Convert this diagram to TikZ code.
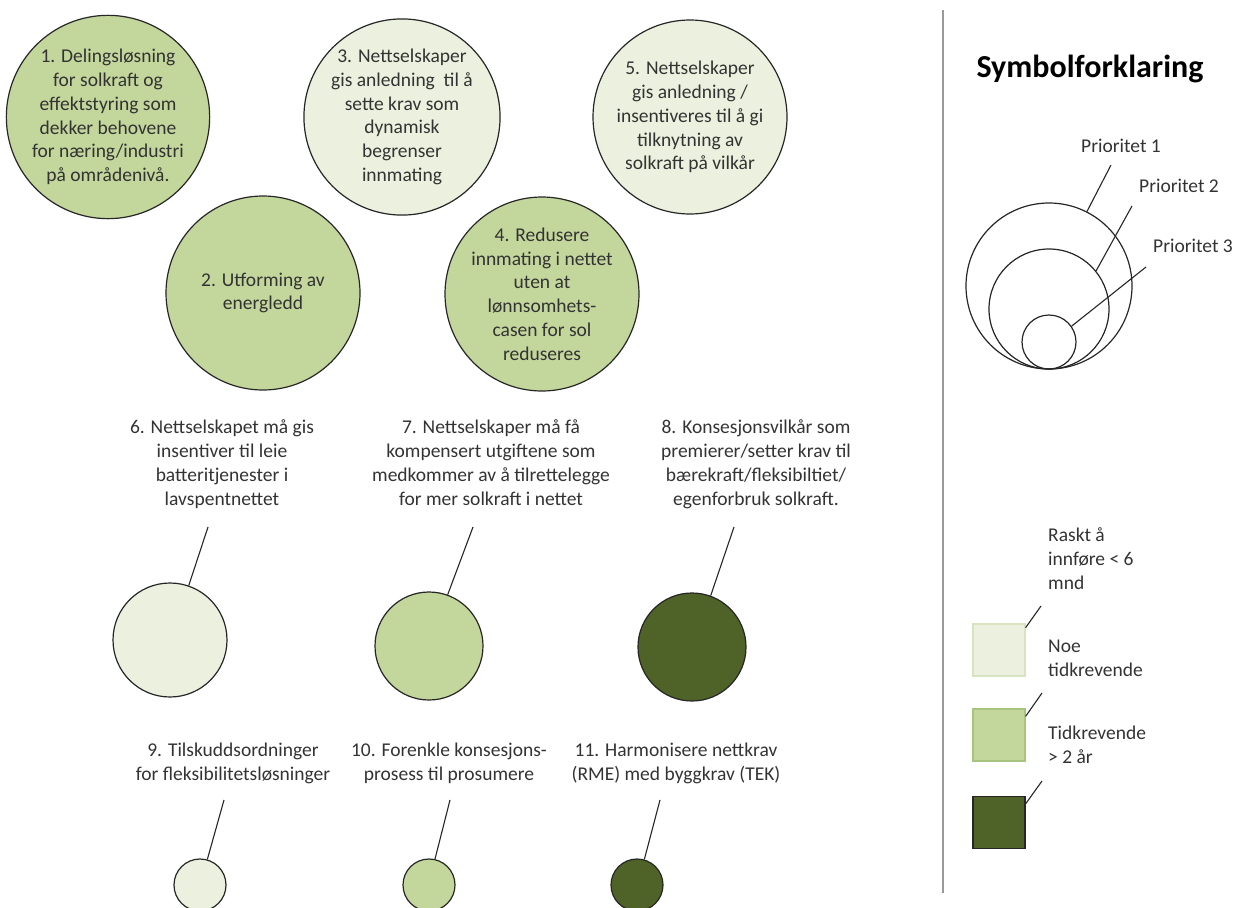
\documentclass[tikz,border=0pt]{standalone}
\usepackage{fontspec}
\setmainfont{Carlito}
\definecolor{lg}{HTML}{EBF1DE}
\definecolor{mg}{HTML}{C3D69B}
\definecolor{dg}{HTML}{4F6228}
\definecolor{tx}{HTML}{333333}
\definecolor{lgb}{HTML}{D8E4BF}
\definecolor{mgb}{HTML}{A9C47F}
\begin{document}
\begin{tikzpicture}[x=1pt,y=-1pt,
  txt/.style={font=\fontsize{19.5}{23.8}\selectfont, text=tx, inner sep=0pt, align=center},
  bigc/.style={circle, draw=black!85, line width=1.2pt, minimum size=194pt, inner sep=0pt, txt},
  circ/.style={circle, draw=black!85, line width=1.2pt, inner sep=0pt},
  lead/.style={draw=black!85, line width=1.1pt},
  sq/.style={rectangle, minimum size=52pt, inner sep=0pt, line width=1.2pt},
]
\useasboundingbox (0,0) rectangle (1243,908);

% top circles
\node[bigc, fill=mg] (c1) at (108,117) {1. Delingsløsning\\for solkraft og\\effektstyring som\\dekker behovene\\for næring/industri\\på områdenivå.};
\node[bigc, fill=mg] (c2) at (263,293) {2. Utforming av\\energledd};
\node[bigc, fill=lg] (c3) at (402,117) {3. Nettselskaper\\gis anledning\ \ til å\\sette krav som\\dynamisk\\begrenser\\innmating};
\node[bigc, fill=mg] (c4) at (542,294) {4. Redusere\\innmating i nettet\\uten at\\lønnsomhets-\\casen for sol\\reduseres};
\node[bigc, fill=lg] (c5) at (690,117) {5. Nettselskaper\\gis anledning /\\insentiveres til å gi\\tilknytning av\\solkraft på vilkår};

% middle row
\node[txt, anchor=base] (t6) at (222,505) {6. Nettselskapet må gis\\insentiver til leie\\batteritjenester i\\lavspentnettet};
\node[txt, anchor=base] (t7) at (491,505) {7. Nettselskaper må få\\kompensert utgiftene som\\medkommer av å tilrettelegge\\for mer solkraft i nettet};
\node[txt, anchor=base] (t8) at (756,505) {8. Konsesjonsvilkår som\\premierer/setter krav til\\bærekraft/fleksibiltiet/\\egenforbruk solkraft.};
\node[circ, fill=lg, minimum size=114pt] (c6) at (170,640) {};
\node[circ, fill=mg, minimum size=108pt] (c7) at (429,646) {};
\node[circ, fill=dg, minimum size=108pt] (c8) at (692,647) {};
\coordinate (p6) at (208,527);
\coordinate (p7) at (473,527);
\coordinate (p8) at (734,527);
\draw[lead] (p6) -- (c6.71);
\draw[lead] (p7) -- (c7.70);
\draw[lead] (p8) -- (c8.70);

% bottom row
\node[txt, anchor=base] (t9) at (233,780) {9. Tilskuddsordninger\\for fleksibilitetsløsninger};
\node[txt, anchor=base] (t10) at (449,780) {10. Forenkle konsesjons-\\prosess til prosumere};
\node[txt, anchor=base] (t11) at (676,780) {11. Harmonisere nettkrav\\(RME) med byggkrav (TEK)};
\node[circ, fill=lg, minimum size=52pt] (c9) at (200,885) {};
\node[circ, fill=mg, minimum size=52pt] (c10) at (429,885) {};
\node[circ, fill=dg, minimum size=52pt] (c11) at (637,885) {};
\coordinate (p9) at (224,800);
\coordinate (p10) at (450,800);
\coordinate (p11) at (660,800);
\draw[lead] (p9) -- (c9.74);
\draw[lead] (p10) -- (c10.77);
\draw[lead] (p11) -- (c11.74);

% separator
\coordinate (s1) at (943,10);
\coordinate (s2) at (943,893);
\draw[draw=black!40, line width=2.5pt] (s1) -- (s2);

% legend
\node[anchor=base, font=\fontsize{32}{38}\selectfont\bfseries, text=black, inner sep=0pt] (title) at (1090,77) {Symbolforklaring};
\node[circ, minimum size=166pt] (l1) at (1049,286) {};
\node[circ, minimum size=120pt] (l2) at (1049,309) {};
\node[circ, minimum size=54pt] (l3) at (1049,342) {};
\node[txt, anchor=base] (lp1) at (1121,152) {Prioritet 1};
\node[txt, anchor=base] (lp2) at (1179,192) {Prioritet 2};
\node[txt, anchor=base] (lp3) at (1193,252) {Prioritet 3};
\coordinate (q1) at (1111,165);
\coordinate (q2) at (1132,206);
\coordinate (q3) at (1146,267);
\draw[lead] (q1) -- (l1.63);
\draw[lead] (q2) -- (l2.39);
\draw[lead] (q3) -- (l3.35);

\node[sq, fill=lg, draw=lgb] (sq1) at (999,650) {};
\node[sq, fill=mg, draw=mgb] (sq2) at (999,735) {};
\node[sq, fill=dg, draw=black!85] (sq3) at (999,822.5) {};
\node[txt, anchor=base west, align=left] (ls1) at (1048,589) {Raskt å\\innføre < 6\\mnd};
\node[txt, anchor=base west, align=left] (ls2) at (1048,676) {Noe\\tidkrevende};
\node[txt, anchor=base west, align=left] (ls3) at (1048,763) {Tidkrevende\\> 2 år};
\coordinate (r1) at (1041,606);
\coordinate (r2) at (1042,693);
\coordinate (r3) at (1042,781);
\draw[lead] (r1) -- (sq1.40);
\draw[lead] (r2) -- (sq2.35);
\draw[lead] (r3) -- (sq3.35);
\end{tikzpicture}
\end{document}
